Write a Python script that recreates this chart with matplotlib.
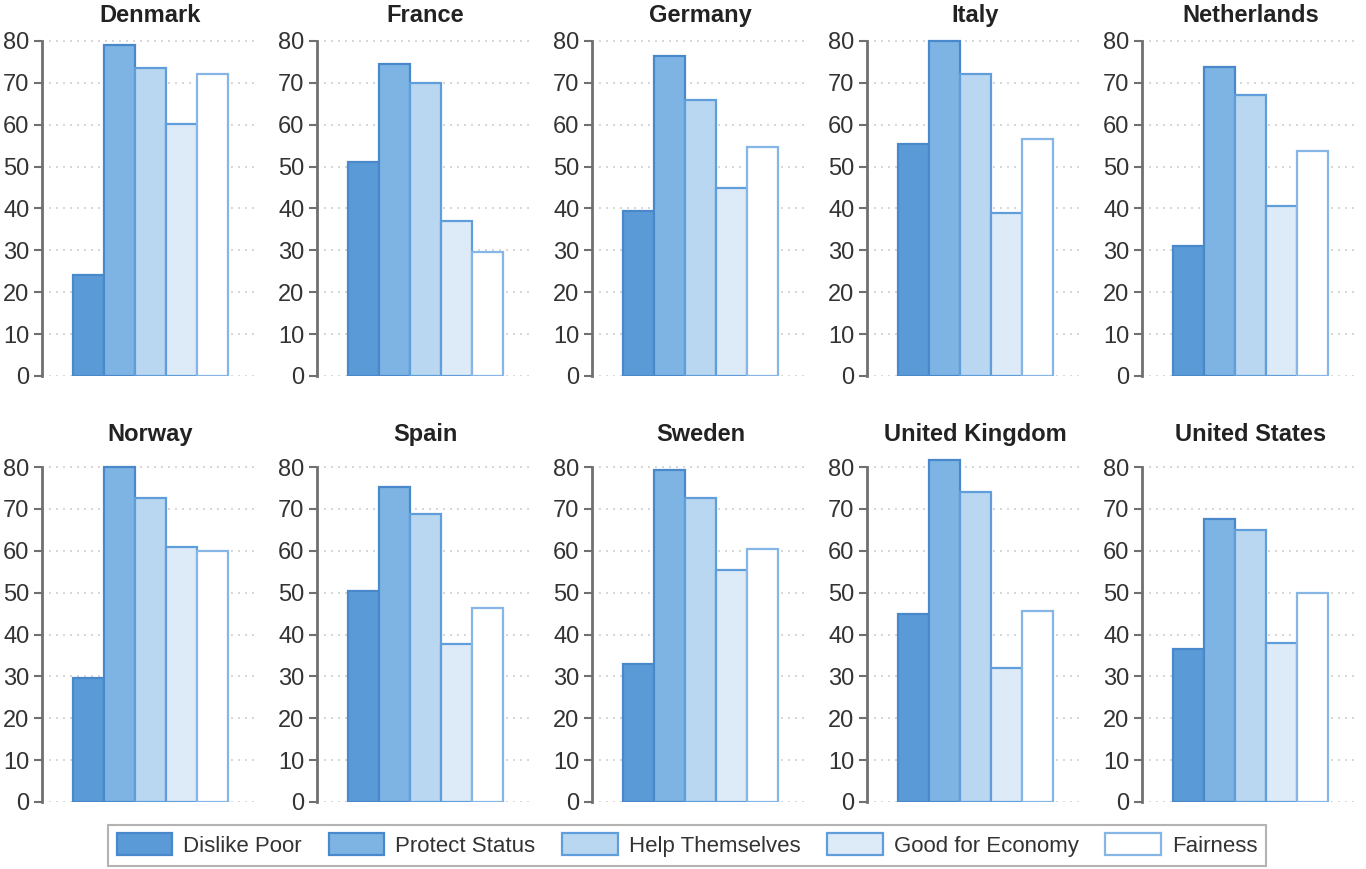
import matplotlib
matplotlib.use("Agg")
import matplotlib.pyplot as plt
from matplotlib.patches import Patch

plt.rcParams['font.family'] = ['Liberation Sans', 'DejaVu Sans']

countries = ["Denmark", "France", "Germany", "Italy", "Netherlands",
             "Norway", "Spain", "Sweden", "United Kingdom", "United States"]
motives = ["Dislike Poor", "Protect Status", "Help Themselves",
           "Good for Economy", "Fairness"]

dislike_poor = [24, 51, 39.5, 55.5, 31, 29.5, 50.5, 33, 45, 36.5]
protect_status = [79, 74.5, 76.5, 80, 73.8, 80, 75.3, 79.3, 81.7, 67.5]
help_themselves = [73.5, 70, 66, 72, 67, 72.5, 68.7, 72.5, 74, 65]
good_for_economy = [60.2, 37, 45, 39, 40.5, 61, 37.7, 55.5, 32, 38]
fairness = [72.1, 29.5, 54.8, 56.5, 53.8, 60, 46.3, 60.5, 45.7, 50]

series = [dislike_poor, protect_status, help_themselves, good_for_economy, fairness]
fills = ["#5a9ad6", "#7db4e3", "#b9d7f0", "#ddebf8", "#ffffff"]
edges = ["#4a88cc", "#4a88cc", "#5f9ddb", "#5f9ddb", "#86b6e6"]

W, H = 1366, 869
fig = plt.figure(figsize=(W / 100, H / 100), dpi=100)

px_per_unit = 335 / 80.0
ymax = 82.5
ax_h = ymax * px_per_unit
ax_w = 217
zero_rows = [376, 802]
title_pads = [6, 11]

for i, country in enumerate(countries):
    row, col = divmod(i, 5)
    left = 42 + 275 * col
    y0 = zero_rows[row]
    ax = fig.add_axes([left / W, (H - y0) / H, ax_w / W, ax_h / H])
    for j in range(5):
        ax.bar(j, series[j][i], width=1.0, color=fills[j], edgecolor=edges[j],
               linewidth=1.6, zorder=3)
    ax.set_xlim(-1.5, 5.5)
    ax.set_ylim(0, ymax)
    ax.set_yticks(range(0, 81, 10))
    ax.set_xticks([])
    ax.yaxis.grid(True, color="#d0d0d0", linestyle=(0, (1.2, 3)), linewidth=1.2, zorder=0)
    for s in ["top", "right", "bottom"]:
        ax.spines[s].set_visible(False)
    ax.spines["left"].set_bounds(0, 80)
    ax.spines["left"].set_color("#707070")
    ax.spines["left"].set_linewidth(2)
    ax.tick_params(axis="y", length=6, width=1.5, color="#707070",
                   labelsize=17, labelcolor="#333333", pad=3)
    ax.set_title(country, fontsize=17, fontweight="bold", color="#222222",
                 pad=title_pads[row])

handles = [Patch(facecolor=fills[j], edgecolor=edges[j], linewidth=1.6, label=motives[j])
           for j in range(5)]
leg = fig.legend(handles=handles, loc="center", bbox_to_anchor=(687 / W, (H - 845) / H),
                 ncol=5, fontsize=16, frameon=True, fancybox=False,
                 edgecolor="#a0a0a0", handlelength=2.5, handleheight=1.1,
                 columnspacing=1.2, handletextpad=0.5, borderpad=0.4)
leg.get_frame().set_linewidth(1.5)
for t in leg.get_texts():
    t.set_color("#333333")

fig.savefig("out.png", dpi=100)
